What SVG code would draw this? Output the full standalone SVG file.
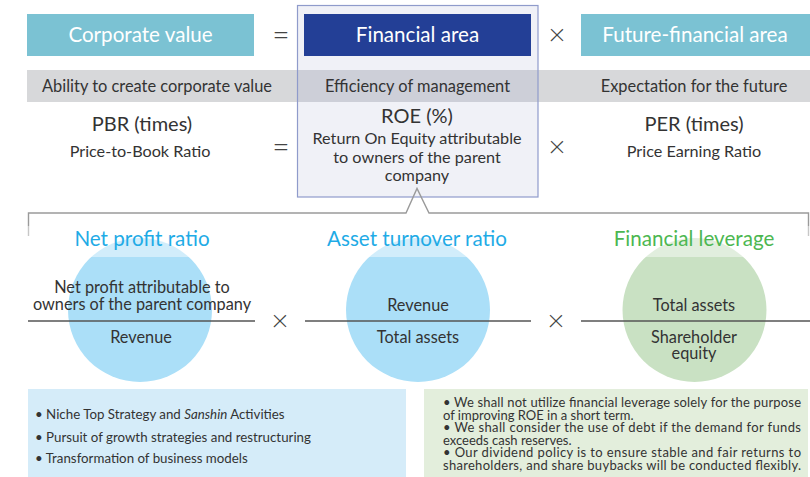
<svg xmlns="http://www.w3.org/2000/svg" width="810" height="477" viewBox="0 0 810 477">
<style>
text{font-family:Lato,"Noto Sans","Liberation Sans",sans-serif;fill:#333}
.hd{font-size:20.6px;fill:#fff;text-anchor:middle}
.band{font-size:16.4px;text-anchor:middle;fill:#333}
.big{font-size:20px;text-anchor:middle}
.sm{font-size:16.2px;text-anchor:middle}
.op{font-size:30px;font-weight:300;text-anchor:middle;fill:#444}
.ttl{font-size:20.6px;text-anchor:middle}
.frac{font-size:16.3px;text-anchor:middle}
.bl{font-size:13.3px}
.br{font-size:13px}
.fl{stroke:#555;stroke-width:1.4}
</style>
<rect x="0" y="0" width="810" height="477" fill="#fff"/>
<g id="financial-area-frame">
<rect x="297.5" y="5.5" width="240.5" height="191.5" fill="#f0f1f7" stroke="#8f9bcb" stroke-width="1.2"/>
</g>
<g id="gray-band">
<rect x="27" y="70" width="783" height="32" fill="#d7d8da"/>
<rect x="298" y="70" width="240" height="32" fill="#cdcfd8"/>
<line x1="297.5" y1="70" x2="297.5" y2="102" stroke="#8f9bcb" stroke-width="1.2"/>
<line x1="538" y1="70" x2="538" y2="102" stroke="#8f9bcb" stroke-width="1.2"/>
<text class="band" x="157" y="91.5">Ability to create corporate value</text>
<text class="band" x="417.5" y="91.5">Efficiency of management</text>
<text class="band" x="694" y="91.5">Expectation for the future</text>
</g>
<g id="corporate-value">
<rect x="27" y="14" width="227" height="42" fill="#7bc2d3"/>
<text class="hd" x="140.5" y="42">Corporate value</text>
</g>
<g id="financial-area">
<rect x="304" y="14" width="227" height="42" fill="#233f96"/>
<text class="hd" x="417.5" y="42">Financial area</text>
</g>
<g id="future-financial-area">
<rect x="581" y="14" width="229" height="42" fill="#7bc2d3"/>
<text class="hd" x="695" y="42">Future-financial area</text>
</g>
<g id="operators-top">
<text class="op" x="281" y="45">=</text>
<text class="op" x="557" y="45">×</text>
<text class="op" x="281" y="157">=</text>
<text class="op" x="557" y="157">×</text>
</g>
<g id="pbr">
<text class="big" x="142" y="131">PBR (times)</text>
<text class="sm" x="140" y="157">Price-to-Book Ratio</text>
</g>
<g id="roe">
<text class="big" x="417" y="123">ROE (%)</text>
<text class="sm" x="417" y="144">Return On Equity attributable</text>
<text class="sm" x="417" y="163">to owners of the parent</text>
<text class="sm" x="417" y="181">company</text>
</g>
<g id="per">
<text class="big" x="694" y="131">PER (times)</text>
<text class="sm" x="694" y="157">Price Earning Ratio</text>
</g>
<g id="connectors">
<polyline points="28.5,236 28.5,213 406,213 417,188.5 429,213 808.5,213 808.5,236" fill="none" stroke="#9a9a9a" stroke-width="1.4"/>
</g>
<g id="net-profit-ratio">
<circle cx="140" cy="310" r="72" fill="#abdff8"/>
</g>
<g id="asset-turnover-ratio">
<circle cx="418" cy="310" r="72" fill="#abdff8"/>
</g>
<g id="financial-leverage">
<circle cx="694.5" cy="310" r="72" fill="#c9e1c3"/>
</g>
<rect x="0" y="226" width="810" height="31" fill="#fff" fill-opacity="0.45"/>
<g id="circle-titles">
<text class="ttl" x="142" y="246" style="fill:#1fabe6">Net profit ratio</text>
<text class="ttl" x="417" y="246" style="fill:#1fabe6">Asset turnover ratio</text>
<text class="ttl" x="694" y="246" style="fill:#4cb751">Financial leverage</text>
</g>
<g id="fractions">
<line class="fl" x1="28" y1="321" x2="255" y2="321"/>
<line class="fl" x1="305" y1="321" x2="531" y2="321"/>
<line class="fl" x1="581" y1="321" x2="810" y2="321"/>
<text class="op" x="280" y="331">×</text>
<text class="op" x="556" y="331">×</text>
<text class="frac" x="142" y="293">Net profit attributable to</text>
<text class="frac" x="142" y="310">owners of the parent company</text>
<text class="frac" x="141" y="343">Revenue</text>
<text class="frac" x="418" y="311">Revenue</text>
<text class="frac" x="418" y="343">Total assets</text>
<text class="frac" x="694" y="311">Total assets</text>
<text class="frac" x="694" y="343">Shareholder</text>
<text class="frac" x="694" y="359">equity</text>
</g>
<g id="strategies-box">
<rect x="28" y="389" width="378" height="88" fill="#d5ecf9"/>
<text class="bl" x="35" y="419">• Niche Top Strategy and <tspan font-style="italic">Sanshin</tspan> Activities</text>
<text class="bl" x="35" y="442">• Pursuit of growth strategies and restructuring</text>
<text class="bl" x="35" y="463">• Transformation of business models</text>
</g>
<g id="policy-box">
<rect x="424" y="389" width="384" height="88" fill="#e3eedc"/>
<text class="br" x="443" y="407" textLength="358" lengthAdjust="spacing">• We shall not utilize financial leverage solely for the purpose</text>
<text class="br" x="443" y="419.5">of improving ROE in a short term.</text>
<text class="br" x="443" y="432" textLength="358" lengthAdjust="spacing">• We shall consider the use of debt if the demand for funds</text>
<text class="br" x="443" y="444.5">exceeds cash reserves.</text>
<text class="br" x="443" y="457" textLength="358" lengthAdjust="spacing">• Our dividend policy is to ensure stable and fair returns to</text>
<text class="br" x="443" y="469.5" textLength="358" lengthAdjust="spacing">shareholders, and share buybacks will be conducted flexibly.</text>
</g>
</svg>
